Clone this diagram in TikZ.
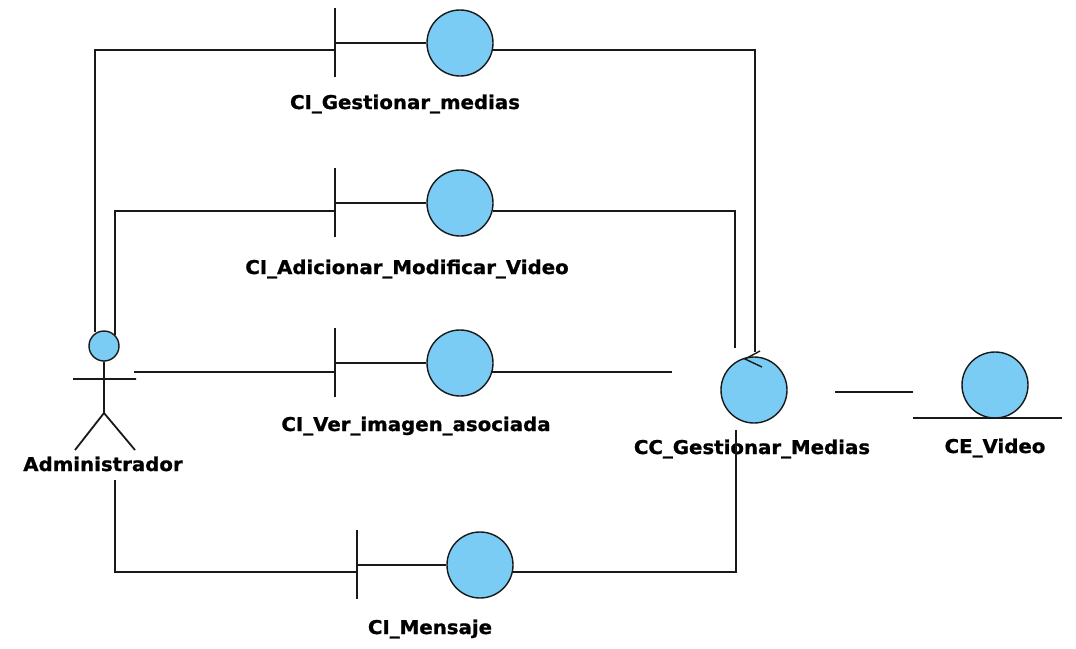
\documentclass[tikz,border=0pt]{standalone}
\usepackage{fontspec}
\setmainfont{DejaVu Sans}[BoldFeatures={FakeStretch=1.04,FakeBold=1}]
\usetikzlibrary{calc}
\definecolor{ballblue}{RGB}{122,204,244}
\begin{document}
\begin{tikzpicture}[x=1pt,y=-1pt,
  wire/.style={draw=black!90,line width=1.8pt},
  ball/.style={circle,draw=black!90,line width=1.4pt,fill=ballblue,minimum size=66pt,inner sep=0pt},
  head/.style={circle,draw=black!90,line width=1.4pt,fill=ballblue,minimum size=30pt,inner sep=0pt},
  lbl/.style={font=\bfseries\fontsize{19}{19}\selectfont,inner sep=0pt,anchor=base}]
\useasboundingbox[fill=white] (0,0) rectangle (1076,648);

% ---- actor ----
\node[head] (head) at (104,346) {};
\coordinate (hip) at (104,413);
\coordinate (armL) at (73,379);
\coordinate (armR) at (136,379);
\coordinate (footL) at (75,450);
\coordinate (footR) at (135,450);
\draw[wire] (head.south) -- (hip) (armL) -- (armR) (footL) -- (hip) -- (footR);
\node[lbl] (adm) at (103,471) {Administrador};

% ---- boundary objects ----
\node[ball] (g1) at (460,43) {};
\node[ball] (g2) at (460,203) {};
\node[ball] (g3) at (460,363) {};
\node[ball] (g4) at (480,565) {};
\coordinate (b1) at (335,43);
\coordinate (b2) at (335,203);
\coordinate (b3) at (335,363);
\coordinate (b4) at (357,565);
\foreach \b in {b1,b2,b3,b4}
  \draw[wire] ([yshift=35pt]\b) -- ([yshift=-34pt]\b);
\foreach \b/\g in {b1/g1,b2/g2,b3/g3,b4/g4}
  \draw[wire] (\b) -- (\g.west);
\node[lbl] (l1) at (405,109) {CI\_Gestionar\_medias};
\node[lbl] (l2) at (407,274) {CI\_Adicionar\_Modificar\_Video};
\node[lbl] (l3) at (416,431) {CI\_Ver\_imagen\_asociada};
\node[lbl] (l4) at (430,634) {CI\_Mensaje};

% ---- control object ----
\node[ball] (cc) at (754,390) {};
\draw[wire,line width=1.4pt] (760,351) -- (745,359) -- (762,367);
\node[lbl] (lcc) at (752,454) {CC\_Gestionar\_Medias};

% ---- entity object ----
\node[ball] (ce) at (995,385) {};
\coordinate (ceL) at (913,418);
\coordinate (ceR) at (1062,418);
\draw[wire] (ceL) -- (ceR);
\node[lbl] (lce) at (995,453) {CE\_Video};

% ---- connector end points ----
\coordinate (a1) at (95,332);
\coordinate (a2) at (115,335);
\coordinate (a3) at (134,372);
\coordinate (a4) at (115,480);
\coordinate (c1) at (755,352);
\coordinate (c2) at (735,348);
\coordinate (c3) at (672,372);
\coordinate (c4) at (736,430);
\coordinate (e1) at (835,392);
\coordinate (e2) at (913,392);

% ---- links ----
\draw[wire] (a1) |- ($(b1)+(0,7)$);
\draw[wire] (a2) |- ($(b2)+(0,8)$);
\draw[wire] (a3) -- ($(b3)+(0,9)$);
\draw[wire] (a4) |- ($(b4)+(0,7)$);
\draw[wire] (g1.-12) -| (c1);
\draw[wire] (g2.-14) -| (c2);
\draw[wire] (g3.-16) -- (g3.-16 -| c3);
\draw[wire] (g4.-12) -| (c4);
\draw[wire] (e1) -- (e2);
\end{tikzpicture}
\end{document}
